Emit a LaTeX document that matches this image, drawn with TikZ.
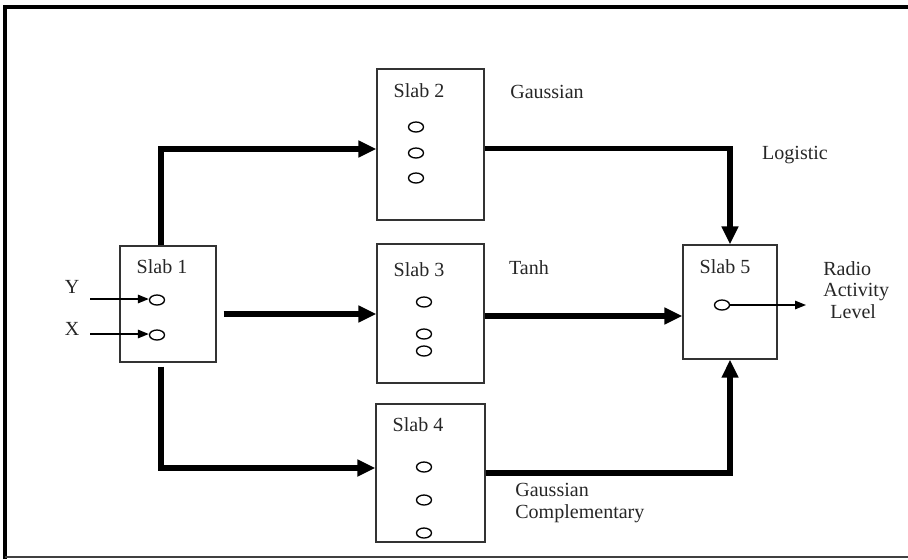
\documentclass[tikz,border=0pt]{standalone}
\usepackage{fontspec}
\setmainfont{Liberation Serif}
\usepackage{tikz}
\usetikzlibrary{arrows.meta}
\usetikzlibrary{calc}
\usetikzlibrary{positioning}
\usetikzlibrary{shapes.geometric}

\tikzset{
  slab/.style={draw=black!80, line width=0.8pt, rectangle, inner sep=0pt},
  unit/.style={draw=black, line width=0.75pt, ellipse, minimum width=0.3cm, minimum height=0.2cm, inner sep=0pt},
  lbl/.style={text=black!85, font=\fontsize{11.4}{12.3}\selectfont, inner sep=0pt},
  flow/.style={line width=2.9pt, -{Triangle[length=0.36cm,width=0.32cm]}},
  feed/.style={line width=0.8pt, -{Triangle[length=0.22cm,width=0.17cm]}}
}

\begin{document}
\begin{tikzpicture}[x=0.02cm, y=-0.02cm]
    \useasboundingbox (0,0) rectangle (908,559);
    % frame
    \draw[line width=2.6pt] (5,559) -- (5,7) -- (908,7);
    \draw[line width=0.8pt, black!75] (5,557) -- (908,557);

    % slabs
    \node[slab, minimum width=1.92cm, minimum height=2.32cm] (s1) at (168,304) {};
    \node[slab, minimum width=2.14cm, minimum height=3.02cm] (s2) at (430.5,144.5) {};
    \node[slab, minimum width=2.14cm, minimum height=2.78cm] (s3) at (430.5,313.5) {};
    \node[slab, minimum width=2.18cm, minimum height=2.76cm] (s4) at (430.5,473) {};
    \node[slab, minimum width=1.88cm, minimum height=2.28cm] (s5) at (730,302) {};

    \node[lbl] (t1) at (162,267) {Slab 1};
    \node[lbl] (t2) at (419,91) {Slab 2};
    \node[lbl] (t3) at (419,270) {Slab 3};
    \node[lbl] (t4) at (418,425) {Slab 4};
    \node[lbl] (t5) at (725,267) {Slab 5};

    % units
    \node[unit] (y1) at (157,300) {};
    \node[unit] (x1) at (157,335) {};
    \node[unit] (a2) at (416,127) {};
    \node[unit] (b2) at (416,153) {};
    \node[unit] (c2) at (416,178) {};
    \node[unit] (a3) at (424,302) {};
    \node[unit] (b3) at (424,334) {};
    \node[unit] (c3) at (424,351) {};
    \node[unit] (a4) at (424,467) {};
    \node[unit] (b4) at (424,500) {};
    \node[unit] (c4) at (424,533) {};
    \node[unit] (o5) at (722,305) {};

    % labels
    \node[lbl] (ylab) at (72,287) {Y};
    \node[lbl] (xlab) at (72,329) {X};
    \node[lbl] (gauss) at (547,92) {Gaussian};
    \node[lbl] (logi) at (795,155) {Logistic};
    \node[lbl] (tanh) at (529,268) {Tanh};
    \node[lbl, anchor=west, align=left] (gcomp) at (515,503) {Gaussian\\Complementary};
    \node[lbl, anchor=west, align=left] (radio) at (823,290) {Radio\\Activity\\\hspace{4pt}Level};

    % inputs and output
    \coordinate (yin) at (90,299);
    \coordinate (xin) at (90,334);
    \coordinate (out) at (806,305);
    \path [feed] (yin) edge (yin -| y1.west);
    \path [feed] (xin) edge (xin -| x1.west);
    \path [feed] (o5.east) edge (o5.east -| out);

    % connections
    \draw[flow] ($(s1.north)+(-7,0)$) |- ($(s2.west)+(0,4.5)$);
    \draw[flow] ($(s1.east |- s3.west)+(7,0.5)$) -- ($(s3.west)+(0,0.5)$);
    \draw[flow] ($(s1.south)+(-7,4)$) |- ($(s4.west)+(0,-5)$);
    \draw[flow] ($(s2.east)+(0,4)$) -| (s5.north);
    \draw[flow] ($(s3.east)+(0,2.5)$) -- (s5.west |- {$(s3.east)+(0,2.5)$});
    \draw[flow] (s4.east) -| (s5.south);
  \end{tikzpicture}
\end{document}
